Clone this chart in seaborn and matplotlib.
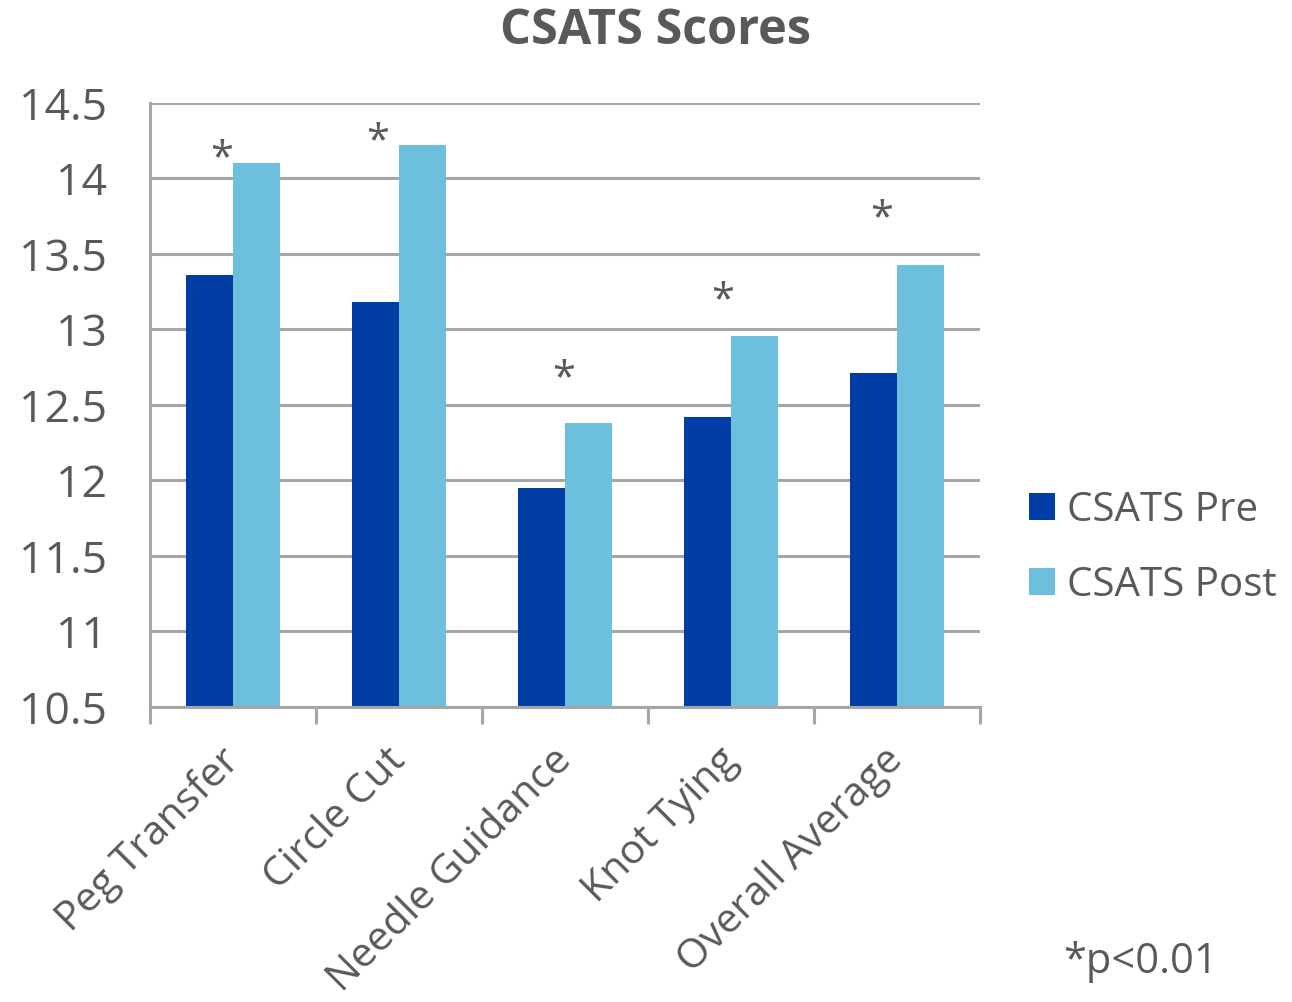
import matplotlib
matplotlib.use("Agg")
import matplotlib.pyplot as plt
import matplotlib.transforms as mtransforms
import seaborn as sns
import pandas as pd
from matplotlib.patches import Patch

categories = ["Peg Transfer", "Circle Cut", "Needle Guidance", "Knot Tying", "Overall Average"]
pre_scores = [13.36, 13.18, 11.95, 12.42, 12.71]
post_scores = [14.10, 14.22, 12.38, 12.96, 13.43]
series_names = ["CSATS Pre", "CSATS Post"]
yticks = [10.5, 11, 11.5, 12, 12.5, 13, 13.5, 14, 14.5]
ytick_labels = ["10.5", "11", "11.5", "12", "12.5", "13", "13.5", "14", "14.5"]

df = pd.DataFrame({
    "category": categories * 2,
    "series": [series_names[0]] * len(categories) + [series_names[1]] * len(categories),
    "score": pre_scores + post_scores,
})

sns.set_theme(style="white")
plt.rcParams["font.family"] = ["Open Sans", "DejaVu Sans"]
text_color = "#595959"
grid_color = "#A6A6A6"
colors = ["#003DA5", "#6CC0DE"]

fig = plt.figure(figsize=(12.92, 10.02), dpi=100)
ax = fig.add_axes([150/1292, 1-707/1002, (980-150)/1292, (707-103)/1002])

sns.barplot(data=df, x="category", y="score", hue="series", palette=colors,
            width=0.57, gap=0, ax=ax, legend=False, saturation=1, linewidth=0)

ax.set_ylim(10.5, 14.5)
ax.set_xlim(-0.5, len(categories) - 0.5)
ax.set_yticks(yticks)
ax.set_yticklabels(ytick_labels)
ax.yaxis.grid(True, color=grid_color, linewidth=2.2)
ax.set_axisbelow(True)
for s in ["top", "right"]:
    ax.spines[s].set_visible(False)
for s in ["left", "bottom"]:
    ax.spines[s].set_color(grid_color)
    ax.spines[s].set_linewidth(2.2)
ax.tick_params(axis="y", which="major", length=9, width=2.2, color=grid_color,
               labelsize=32, labelcolor=text_color, pad=22)
ax.set_xticks(range(len(categories)))
ax.set_xticklabels(categories, rotation=45, ha="right", rotation_mode="anchor")
ax.tick_params(axis="x", which="major", length=0, labelsize=29.5, labelcolor=text_color, pad=24)
shift = mtransforms.ScaledTranslation(-14/100, 0, fig.dpi_scale_trans)
for lbl in ax.get_xticklabels():
    lbl.set_transform(lbl.get_transform() + shift)
ax.set_xticks([i - 0.5 for i in range(len(categories) + 1)], minor=True)
ax.tick_params(axis="x", which="minor", length=12, width=2.2, color=grid_color, direction="out", bottom=True)
ax.set_xlabel("")
ax.set_ylabel("")

# significance markers
star_pos = [(-0.07, 14.13), (0.87, 14.24), (1.99, 12.67), (2.95, 13.19), (3.91, 13.73)]
for x, y in star_pos:
    ax.text(x, y, "*", ha="center", va="center", fontsize=30, color=text_color)

fig.text(656/1292, 1-31/1002, "CSATS Scores", ha="center", va="center",
         fontsize=35, fontweight="bold", color=text_color)

handles = [Patch(facecolor=c, edgecolor="none") for c in colors]
fig.legend(handles, series_names, loc="center left", bbox_to_anchor=(1029/1292, 1-548/1002),
           frameon=False, fontsize=29, labelcolor=text_color, handlelength=0.65, handleheight=0.65,
           handletextpad=0.3, labelspacing=0.85, borderpad=0, borderaxespad=0)

fig.text(1063/1292, 1-962/1002, "*p<0.01", ha="left", va="center", fontsize=30, color=text_color)

fig.savefig("out.png", dpi=100)
